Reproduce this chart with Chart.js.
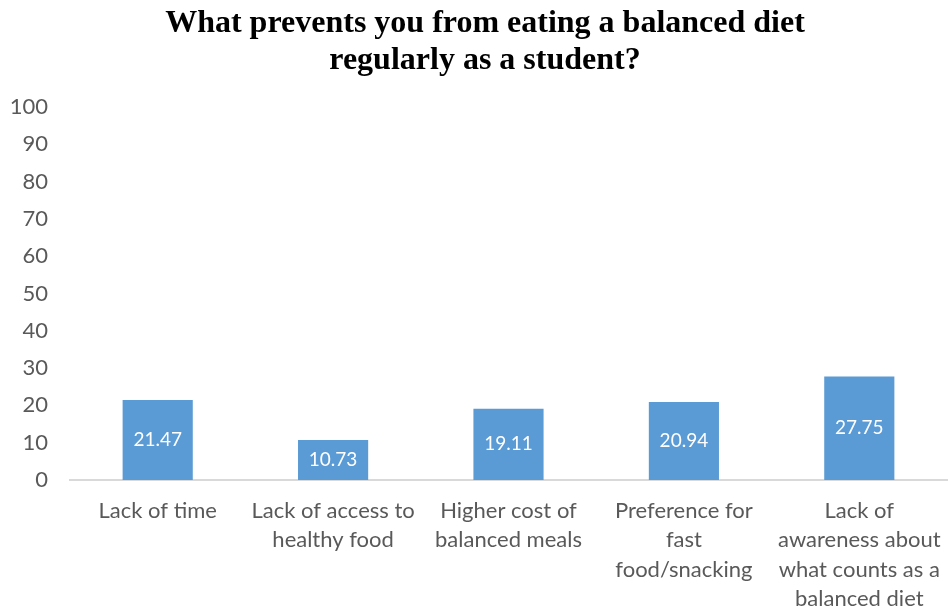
<!DOCTYPE html>
<html>
<head>
<meta charset="utf-8">
<script src="https://cdn.jsdelivr.net/npm/chart.js@4"></script>
<style>
  html, body { margin: 0; padding: 0; background: #fff; }
  #wrap { width: 948px; height: 612px; }
</style>
</head>
<body>
<div id="wrap"><canvas id="diet_plot"></canvas></div>
<script>
const titleLines = ['What prevents you from eating a balanced diet', 'regularly as a student?'];
const categories = [
    ['Lack of time'],
    ['Lack of access to', 'healthy food'],
    ['Higher cost of', 'balanced meals'],
    ['Preference for', 'fast', 'food/snacking'],
    ['Lack of', 'awareness about', 'what counts as a', 'balanced diet']
];
const percentages = [21.47, 10.73, 19.11, 20.94, 27.75];

const textFont = 'Lato, "Noto Sans", sans-serif';

// two-line heading, set a little right of the canvas middle
const heading = {
    id: 'heading',
    afterDraw(chart) {
        const ctx = chart.ctx;
        ctx.save();
        ctx.fillStyle = '#000000';
        ctx.font = 'bold 32px "Liberation Serif", "Times New Roman", serif';
        ctx.textAlign = 'center';
        ctx.textBaseline = 'middle';
        titleLines.forEach((line, i) => {
            ctx.fillText(line, 485, 24 + i * 37);
        });
        ctx.restore();
    }
};

// value written in the middle of each bar
const barValues = {
    id: 'barValues',
    afterDatasetsDraw(chart) {
        const ctx = chart.ctx;
        const meta = chart.getDatasetMeta(0);
        ctx.save();
        ctx.fillStyle = '#ffffff';
        ctx.font = '19px ' + textFont;
        ctx.textAlign = 'center';
        ctx.textBaseline = 'middle';
        meta.data.forEach((bar, i) => {
            const mid = (bar.y + bar.base) / 2;
            ctx.fillText(percentages[i].toFixed(2), bar.x, mid);
        });
        ctx.restore();
    }
};

new Chart(document.getElementById('diet_plot').getContext('2d'), {
    type: 'bar',
    data: {
        labels: categories,
        datasets: [{
            data: percentages,
            backgroundColor: '#5B9BD5',
            borderWidth: 0,
            barPercentage: 0.4,
            categoryPercentage: 1.0
        }]
    },
    options: {
        responsive: true,
        maintainAspectRatio: false,
        animation: false,
        layout: {
            padding: { left: 0, right: 1, top: 107, bottom: 0 }
        },
        plugins: {
            legend: { display: false },
            tooltip: { enabled: false },
            title: { display: false }
        },
        scales: {
            x: {
                afterFit: function(scale) {
                    scale.height = 132;
                    // let the last label run into the margin instead of shrinking the plot
                    scale.paddingLeft = 0;
                    scale.paddingRight = 0;
                },
                grid: { display: false, drawTicks: false },
                border: { display: true, color: '#d9d9d9', width: 2 },
                ticks: {
                    color: '#595959',
                    font: { family: textFont, size: 22, lineHeight: 1.34 },
                    padding: 16,
                    maxRotation: 0,
                    minRotation: 0,
                    autoSkip: false
                }
            },
            y: {
                min: 0,
                max: 100,
                afterFit: function(scale) { scale.width = 70; },
                grid: { display: false, drawTicks: false },
                border: { display: false },
                ticks: {
                    stepSize: 10,
                    color: '#595959',
                    font: { family: textFont, size: 22 },
                    padding: 22
                }
            }
        }
    },
    plugins: [barValues, heading]
});
</script>
</body>
</html>
